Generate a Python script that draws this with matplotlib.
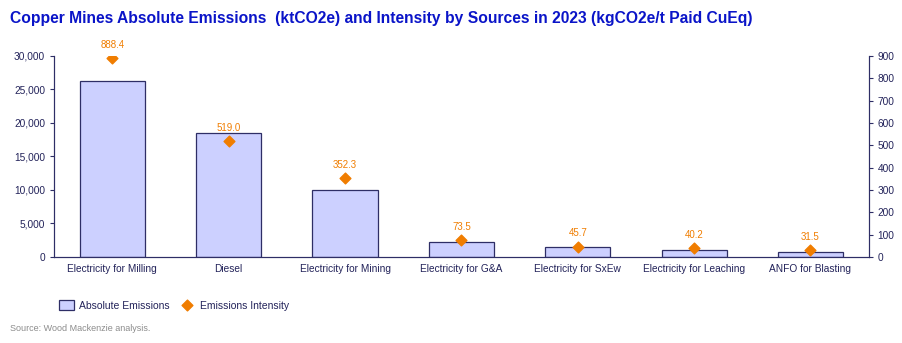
import matplotlib
matplotlib.use("Agg")
import matplotlib.pyplot as plt
from matplotlib.ticker import FuncFormatter

plt.rcParams["font.family"] = ["Liberation Sans", "DejaVu Sans"]

categories = ["Electricity for Milling", "Diesel", "Electricity for Mining",
              "Electricity for G&A", "Electricity for SxEw",
              "Electricity for Leaching", "ANFO for Blasting"]
absolute_emissions = [26200, 18500, 10000, 2200, 1500, 1100, 800]
intensity = [888.4, 519.0, 352.3, 73.5, 45.7, 40.2, 31.5]

navy = "#2E2E66"
text_col = "#23235A"
orange = "#F07D00"

fig = plt.figure(figsize=(9.02, 3.43), dpi=100)
ax = fig.add_axes([0.060, 0.251, 0.903, 0.586])
ax2 = ax.twinx()

x = range(len(categories))
bars = ax.bar(x, absolute_emissions, width=0.56, color="#CCD0FF",
              edgecolor=navy, linewidth=0.9, label="Absolute Emissions")
ax.set_ylim(0, 30000)
ax.set_yticks(range(0, 30001, 5000))
ax.yaxis.set_major_formatter(FuncFormatter(lambda v, p: f"{v:,.0f}"))
ax.set_xlim(-0.5, len(categories) - 0.5)
ax.set_xticks(list(x))
ax.set_xticklabels(categories)

pts = ax2.scatter(x, intensity, marker="D", s=30, color=orange, zorder=3,
                  label="Emissions Intensity")
for xi, v in zip(x, intensity):
    ax2.annotate(f"{v:.1f}", (xi, v), xytext=(0, 6), textcoords="offset points",
                 ha="center", va="bottom", fontsize=7, color=orange)
ax2.set_ylim(0, 900)
ax2.set_yticks(range(0, 901, 100))

for a in (ax, ax2):
    a.spines["top"].set_visible(False)
    for s in ("left", "right", "bottom"):
        a.spines[s].set_color(navy)
    a.tick_params(axis="both", colors=navy, labelcolor=text_col, labelsize=7.3,
                  length=3, width=0.8)
ax.tick_params(axis="x", length=0, pad=5)

fig.text(0.011, 0.945, "Copper Mines Absolute Emissions  (ktCO2e) and Intensity by Sources in 2023 (kgCO2e/t Paid CuEq)",
         fontsize=11.25, fontweight="bold", color="#0A14C8", va="center")

fig.legend([bars, pts], ["Absolute Emissions", "Emissions Intensity"],
           loc="center left", bbox_to_anchor=(0.055, 0.11), ncol=2, frameon=False,
           fontsize=7.5, labelcolor=text_col, handlelength=1.4, handleheight=1.1,
           handletextpad=0.5, columnspacing=1.0)

fig.text(0.011, 0.043, "Source: Wood Mackenzie analysis.", fontsize=6.5,
         color="#8C8C8C", va="center")

fig.savefig("out.png", dpi=100)
